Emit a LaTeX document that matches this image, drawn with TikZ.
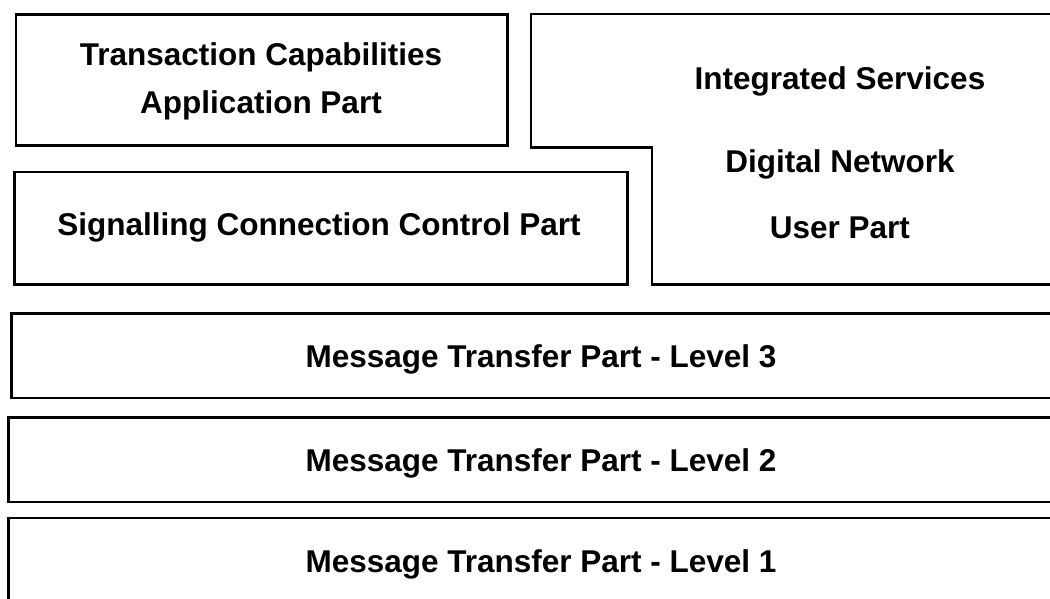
\documentclass[tikz,border=0pt]{standalone}
\usepackage{fontspec}
\setmainfont{Liberation Sans}
\begin{document}
\begin{tikzpicture}[x=1pt,y=-1pt,
  layer/.style={draw=black,line width=2.8pt,line join=miter,fill=white},
  lbl/.style={anchor=base,inner sep=0pt,font=\bfseries\fontsize{31.5}{38}\selectfont}]
\useasboundingbox (0,0) rectangle (1050,598);
\clip (0,0) rectangle (1050,598);

% upper protocol layers
\draw[layer] (16,14.5) rectangle (507.5,145.3);
\draw[layer] (14.5,172) rectangle (627.3,284.3);
\draw[layer] (531,14) -- (1056,14) -- (1056,284.3) -- (652,284.3)
  -- (652,147.7) -- (531,147.7) -- cycle;

% message transfer part levels
\draw[layer] (11.3,313.5) rectangle (1056,398);
\draw[layer] (8.5,417.3) rectangle (1056,502);
\draw[layer] (8.5,518) rectangle (1056,604);

% labels
\node[lbl] (tcap1) at (261,65.5) {Transaction Capabilities};
\node[lbl] (tcap2) at (261,113) {Application Part};
\node[lbl] (sccpl) at (319,235) {Signalling Connection Control Part};
\node[lbl] (isup1) at (840,89.3) {Integrated Services};
\node[lbl] (isup2) at (840,172) {Digital Network};
\node[lbl] (isup3) at (840,238.8) {User Part};
\node[lbl] (mtp3) at (541,367.5) {Message Transfer Part - Level 3};
\node[lbl] (mtp2) at (541,471.5) {Message Transfer Part - Level 2};
\node[lbl] (mtp1) at (541,572.5) {Message Transfer Part - Level 1};
\end{tikzpicture}
\end{document}
